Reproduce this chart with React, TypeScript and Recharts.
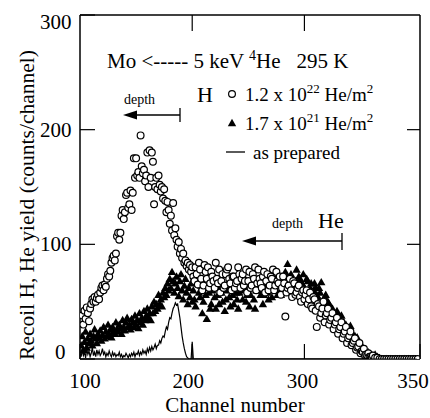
import React from 'react';
import { ScatterChart, Scatter, XAxis, YAxis, Legend, Label } from 'recharts';

const FONT = '"Liberation Serif", "Times New Roman", Times, serif';

// ---- axes ----
const xTickValues = [100, 200, 300, 403];
const xTickLabels = ['100', '200', '300', '350'];
const xTopTicks = [200, 300];
const yTickValues = [0, 100, 200, 300];
const yRightTicks = [100, 200];
const xDomain = [100, 403];
const yDomain = [0, 300];

// plot box (page px) shared by chart margins and the frame overlay
const CHART_W = 430;
const CHART_H = 418;
const M_TOP = 15;
const M_RIGHT = 10;
const Y_AXIS_W = 80;
const X_AXIS_H = 59;
const PLOT = { left: Y_AXIS_W, right: CHART_W - M_RIGHT, top: M_TOP, bottom: CHART_H - X_AXIS_H };

// ---- series: [channel, counts/channel] ----
const highDose: [number, number][] = [
  [102, 38], [103, 30], [104, 42], [105, 35], [106, 45], [107, 40], [108, 33], [109, 44], [110, 48],
  [111, 52], [112, 50], [113, 54], [114, 50], [115, 53], [116, 56], [117, 52], [118, 58], [119, 62],
  [120, 64], [121, 60], [122, 65], [123, 63], [124, 70], [125, 74], [126, 72], [127, 77], [128, 84],
  [129, 88], [130, 90], [131, 86], [132, 92], [133, 107], [134, 110], [135, 104], [136, 110], [137, 125],
  [138, 130], [139, 122], [140, 128], [141, 143], [142, 145], [143, 132], [144, 135], [145, 147], [146, 130],
  [147, 145], [148, 175], [149, 158], [150, 175], [151, 160], [152, 163], [153, 158], [154, 195], [155, 168],
  [156, 162], [157, 165], [158, 155], [159, 160], [160, 180], [161, 150], [162, 182], [163, 158], [164, 180],
  [165, 172], [166, 135], [167, 150], [168, 158], [169, 148], [170, 160], [171, 152], [172, 146], [173, 150],
  [174, 140], [175, 148], [176, 138], [177, 128], [178, 137], [179, 130], [180, 118], [181, 125], [182, 112],
  [183, 136], [184, 108], [185, 114], [186, 104], [187, 98], [188, 102], [189, 92], [190, 96], [191, 88],
  [192, 92], [193, 84], [194, 86], [195, 81], [196, 84], [197, 78], [198, 82], [199, 76], [200, 80],
  [201, 72], [202, 68], [203, 80], [204, 74], [205, 65], [206, 84], [207, 78], [208, 70], [209, 60],
  [210, 64], [211, 82], [212, 76], [213, 70], [214, 80], [215, 62], [216, 66], [217, 76], [218, 72],
  [219, 68], [220, 62], [221, 84], [222, 70], [223, 66], [224, 78], [225, 58], [226, 68], [227, 74],
  [228, 62], [229, 64], [230, 74], [231, 78], [232, 80], [233, 70], [234, 66], [235, 60], [236, 72],
  [237, 72], [238, 62], [239, 66], [240, 68], [241, 80], [242, 74], [243, 62], [244, 70], [245, 74],
  [246, 64], [247, 68], [248, 78], [249, 58], [250, 68], [251, 76], [252, 62], [253, 64], [254, 74],
  [255, 70], [256, 80], [257, 60], [258, 66], [259, 78], [260, 70], [261, 66], [262, 62], [263, 72],
  [264, 76], [265, 58], [266, 68], [267, 74], [268, 60], [269, 64], [270, 72], [271, 70], [272, 78],
  [273, 60], [274, 64], [275, 76], [276, 68], [277, 66], [278, 72], [279, 56], [280, 62], [281, 72],
  [282, 66], [283, 37], [284, 58], [285, 62], [286, 64], [287, 70], [288, 60], [289, 54], [290, 68],
  [291, 66], [292, 56], [293, 58], [294, 62], [295, 64], [296, 54], [297, 50], [298, 58], [299, 60],
  [300, 52], [301, 56], [302, 60], [303, 48], [304, 52], [305, 58], [306, 46], [307, 44], [308, 54],
  [309, 52], [310, 42], [311, 28], [312, 48], [313, 46], [314, 36], [315, 40], [316, 44], [317, 50],
  [318, 32], [319, 38], [320, 40], [321, 44], [322, 30], [323, 34], [324, 36], [325, 40], [326, 26],
  [327, 30], [328, 32], [329, 36], [330, 22], [331, 26], [332, 28], [333, 32], [334, 18], [335, 22],
  [336, 24], [337, 28], [338, 14], [339, 18], [340, 20], [341, 24], [342, 12], [343, 14], [344, 16],
  [345, 18], [346, 8], [347, 10], [348, 11], [349, 14], [350, 5], [351, 7], [352, 6], [353, 9],
  [354, 3], [355, 4], [356, 3], [357, 5], [358, 2], [359, 2], [360, 1], [361, 3], [363, 1], [365, 1],
  [367, 0], [369, 0], [371, 0], [373, 0], [375, 0], [377, 0], [379, 0], [381, 0], [383, 0], [385, 0],
  [387, 0], [389, 0], [391, 0], [393, 0], [395, 0], [397, 0], [399, 0], [401, 0],
];

const lowDose: [number, number][] = [
  [101, 12], [102, 20], [103, 8], [104, 15], [105, 24], [106, 10], [107, 18], [108, 14], [109, 22],
  [110, 16], [111, 12], [112, 20], [113, 26], [114, 18], [115, 14], [116, 22], [117, 19], [118, 25],
  [119, 16], [120, 21], [121, 28], [122, 18], [123, 24], [124, 20], [125, 30], [126, 22], [127, 26],
  [128, 19], [129, 28], [130, 24], [131, 22], [132, 32], [133, 26], [134, 24], [135, 30], [136, 27],
  [137, 22], [138, 34], [139, 28], [140, 25], [141, 32], [142, 36], [143, 28], [144, 30], [145, 26],
  [146, 35], [147, 32], [148, 28], [149, 38], [150, 30], [151, 34], [152, 27], [153, 40], [154, 32],
  [155, 36], [156, 30], [157, 42], [158, 34], [159, 38], [160, 44], [161, 36], [162, 40], [163, 34],
  [164, 46], [165, 40], [166, 50], [167, 42], [168, 48], [169, 44], [170, 56], [171, 48], [172, 52],
  [173, 46], [174, 58], [175, 54], [176, 62], [177, 56], [178, 66], [179, 60], [180, 70], [181, 62],
  [182, 76], [183, 68], [184, 58], [185, 66], [186, 72], [187, 62], [188, 55], [189, 68], [190, 74],
  [191, 60], [192, 52], [193, 64], [194, 70], [195, 58], [196, 48], [197, 62], [198, 54], [199, 66],
  [200, 50], [201, 60], [202, 52], [203, 46], [204, 70], [205, 66], [206, 58], [207, 54], [208, 64],
  [209, 40], [210, 50], [211, 62], [212, 56], [213, 35], [214, 62], [215, 58], [216, 44], [217, 48],
  [218, 60], [219, 68], [220, 54], [221, 44], [222, 64], [223, 56], [224, 48], [225, 62], [226, 58],
  [227, 50], [228, 66], [229, 42], [230, 52], [231, 60], [232, 62], [233, 54], [234, 46], [235, 66],
  [236, 56], [237, 48], [238, 64], [239, 58], [240, 52], [241, 44], [242, 58], [243, 62], [244, 68],
  [245, 52], [246, 60], [247, 70], [248, 50], [249, 56], [250, 62], [251, 46], [252, 56], [253, 64],
  [254, 70], [255, 52], [256, 44], [257, 60], [258, 64], [259, 78], [260, 60], [261, 56], [262, 70],
  [263, 48], [264, 56], [265, 66], [266, 62], [267, 58], [268, 52], [269, 72], [270, 66], [271, 54],
  [272, 60], [273, 64], [274, 70], [275, 60], [276, 56], [277, 70], [278, 64], [279, 56], [280, 68],
  [281, 66], [282, 60], [283, 76], [284, 72], [285, 83], [286, 66], [287, 62], [288, 74], [289, 70],
  [290, 64], [291, 58], [292, 68], [293, 78], [294, 60], [295, 72], [296, 70], [297, 64], [298, 66],
  [299, 74], [300, 62], [301, 60], [302, 70], [303, 68], [304, 58], [305, 62], [306, 66], [307, 58],
  [308, 60], [309, 66], [310, 62], [311, 56], [312, 54], [313, 62], [314, 58], [315, 67], [316, 50],
  [317, 52], [318, 54], [319, 56], [320, 46], [321, 50], [322, 48], [323, 46], [324, 42], [325, 44],
  [326, 40], [327, 40], [328, 36], [329, 42], [330, 38], [331, 36], [332, 32], [333, 38], [334, 30],
  [335, 32], [336, 28], [337, 30], [338, 24], [339, 26], [340, 25], [341, 29], [342, 20], [343, 22],
  [344, 18], [345, 20], [346, 15], [347, 19], [348, 13], [349, 14], [350, 10], [351, 12], [352, 8],
  [353, 9], [354, 6], [355, 7], [356, 5], [357, 6], [358, 3], [359, 4], [360, 2], [361, 3], [363, 4],
  [365, 2], [367, 1], [369, 0], [373, 0], [377, 0], [381, 0], [385, 0], [389, 0], [393, 0], [397, 0],
];

const asPrepared: [number, number][] = [
  [100, 5], [101, 2], [102, 8], [103, 3], [104, 6], [105, 1], [106, 9], [107, 4], [108, 7], [109, 2],
  [110, 5], [111, 10], [112, 3], [113, 6], [114, 2], [115, 8], [116, 4], [117, 7], [118, 3], [119, 5],
  [120, 9], [121, 4], [122, 6], [123, 2], [124, 5], [125, 3], [126, 7], [127, 4], [128, 2], [129, 6],
  [130, 3], [131, 5], [132, 2], [133, 4], [134, 3], [135, 6], [136, 2], [137, 4], [138, 1], [139, 3],
  [140, 2], [141, 5], [142, 3], [143, 1], [144, 4], [145, 2], [146, 5], [147, 3], [148, 6], [149, 2],
  [150, 5], [151, 4], [152, 7], [153, 3], [154, 6], [155, 4], [156, 8], [157, 5], [158, 7], [159, 4],
  [160, 9], [161, 6], [162, 10], [163, 7], [164, 11], [165, 8], [166, 10], [167, 13], [168, 9], [169, 12],
  [170, 12], [171, 16], [172, 14], [173, 18], [174, 20], [175, 19], [176, 24], [177, 28], [178, 26],
  [179, 32], [180, 36], [181, 35], [182, 40], [183, 44], [184, 46], [185, 49], [186, 47], [187, 48],
  [188, 42], [189, 36], [190, 28], [191, 20], [192, 14], [193, 9], [194, 5], [195, 2], [196, 1],
  [197, 0], [198, 0], [199, 0], [200, 15], [201, 0], [202, 0], [400, 0],
];

const toPoints = (rows: [number, number][]) => rows.map(([ch, y]) => ({ ch, y }));
const highDoseData = toPoints(highDose);
const lowDoseData = toPoints(lowDose);
const asPreparedData = toPoints(asPrepared);

const legendItems = [
  { kind: 'circle', base: '1.2 x 10', exp: '22', unit: ' He/m', unitExp: '2' },
  { kind: 'triangle', base: '1.7 x 10', exp: '21', unit: ' He/m', unitExp: '2' },
  { kind: 'line', base: 'as prepared', exp: '', unit: '', unitExp: '' },
];

const CircleShape = (p: any) => (
  <circle cx={p.cx} cy={p.cy} r={3.4} fill="#fff" stroke="#000" strokeWidth={1.2} />
);
const TriangleShape = (p: any) => (
  <path d={`M${p.cx},${p.cy - 4.2} L${p.cx + 4.2},${p.cy + 3.2} L${p.cx - 4.2},${p.cy + 3.2} Z`} fill="#000" />
);
const NoShape = () => <g />;

const xDx = [5, -4, -2, -7];
const XTick = (props: any) => {
  const { x, y, payload } = props;
  const i = xTickValues.indexOf(payload.value);
  return (
    <text x={x + (xDx[i] ?? 0)} y={y + 14} textAnchor="middle" fontFamily={FONT} fontSize={21} fill="#000">
      {xTickLabels[i] ?? payload.value}
    </text>
  );
};

const YTick = (props: any) => {
  const { x, y, payload } = props;
  const v = payload.value;
  const dy = v === 300 ? 13.5 : v === 0 ? 0 : 7;
  const dx = v === 0 ? -6 : 0;
  return (
    <text x={x + dx} y={y + dy} textAnchor="end" fontFamily={FONT} fontSize={21} fill="#000">
      {v}
    </text>
  );
};

const renderLegend = () => (
  <svg width={170} height={92} style={{ display: 'block', overflow: 'visible' }}>
    {legendItems.map((it, i) => {
      const cy = 16 + i * 29;
      const ty = cy + 7;
      let marker: React.ReactNode = null;
      if (it.kind === 'circle') marker = <circle cx={10} cy={cy} r={3.4} fill="#fff" stroke="#000" strokeWidth={1.2} />;
      if (it.kind === 'triangle')
        marker = <path d={`M10,${cy - 4.2} L14.2,${cy + 3.2} L5.8,${cy + 3.2} Z`} fill="#000" />;
      if (it.kind === 'line') marker = <line x1={4} x2={23} y1={cy} y2={cy} stroke="#000" strokeWidth={1.3} />;
      return (
        <g key={i}>
          {marker}
          <text x={it.kind === 'line' ? 31 : 23} y={ty} fontFamily={FONT} fontSize={19} fill="#000">
            {it.base}
            {it.exp ? <tspan fontSize={13} dy={-8}>{it.exp}</tspan> : null}
            {it.unit ? <tspan dy={8}>{it.unit}</tspan> : null}
            {it.unitExp ? <tspan fontSize={13} dy={-8}>{it.unitExp}</tspan> : null}
          </text>
        </g>
      );
    })}
  </svg>
);

// frame helpers: map tick values onto the same plot box the chart uses
const fx = (v: number) => PLOT.left + ((v - xDomain[0]) / (xDomain[1] - xDomain[0])) * (PLOT.right - PLOT.left);
const fy = (v: number) => PLOT.bottom - ((v - yDomain[0]) / (yDomain[1] - yDomain[0])) * (PLOT.bottom - PLOT.top);

const Annotations = () => (
  <svg width={CHART_W} height={CHART_H} style={{ position: 'absolute', left: 0, top: 0, pointerEvents: 'none' }}>
    {/* top and right frame with inward ticks */}
    <line x1={PLOT.left} x2={PLOT.right} y1={PLOT.top} y2={PLOT.top} stroke="#000" strokeWidth={1.5} />
    <line x1={PLOT.right} x2={PLOT.right} y1={PLOT.top} y2={PLOT.bottom} stroke="#000" strokeWidth={1.5} />
    {xTopTicks.map((t) => (
      <line key={`tt${t}`} x1={fx(t)} x2={fx(t)} y1={PLOT.top} y2={PLOT.top + 16} stroke="#000" strokeWidth={1.2} />
    ))}
    {yRightTicks.map((t) => (
      <line key={`rt${t}`} x1={PLOT.right} x2={PLOT.right - 13} y1={fy(t)} y2={fy(t)} stroke="#000" strokeWidth={1.2} />
    ))}
    <text x={107} y={68} fontFamily={FONT} fontSize={21} fill="#000">
      <tspan>Mo &lt;----- 5 keV </tspan>
      <tspan fontSize={14} dy={-8}>4</tspan>
      <tspan dy={8}>He</tspan>
      <tspan dx={16}>295 K</tspan>
    </text>
    {/* H depth arrow */}
    <text x={124} y={104} fontFamily={FONT} fontSize={14} fill="#000">depth</text>
    <text x={197} y={102} fontFamily={FONT} fontSize={22} fill="#000">H</text>
    <line x1={133} x2={180} y1={115} y2={115} stroke="#000" strokeWidth={1.3} />
    <polygon points="123,115 137,110.5 137,119.5" fill="#000" />
    <line x1={180} x2={180} y1={108} y2={122} stroke="#000" strokeWidth={1.3} />
    {/* He depth arrow */}
    <text x={272} y={228} fontFamily={FONT} fontSize={14} fill="#000">depth</text>
    <text x={318} y={228} fontFamily={FONT} fontSize={22} fill="#000">He</text>
    <line x1={252} x2={342} y1={241} y2={241} stroke="#000" strokeWidth={1.3} />
    <polygon points="242,241 256,236.5 256,245.5" fill="#000" />
    <line x1={342} x2={342} y1={233} y2={250} stroke="#000" strokeWidth={1.3} />
  </svg>
);

export default function App() {
  return (
    <div style={{ position: 'absolute', left: 0, top: 0, width: CHART_W, height: CHART_H, background: '#fff' }}>
      <ScatterChart width={CHART_W} height={CHART_H} margin={{ top: M_TOP, right: M_RIGHT, bottom: 0, left: 0 }}>
        <XAxis
          type="number"
          dataKey="ch"
          orientation="bottom"
          domain={xDomain}
          ticks={xTickValues}
          allowDataOverflow
          interval={0}
          height={X_AXIS_H}
          tickSize={-15}
          tickMargin={30}
          tick={<XTick />}
          axisLine={{ stroke: '#000', strokeWidth: 1.5 }}
          tickLine={{ stroke: '#000', strokeWidth: 1.2 }}
        >
          <Label
            content={(p: any) => (
              <text x={p.viewBox.x + 155} y={p.viewBox.y + 53} textAnchor="middle" fontFamily={FONT} fontSize={21} fill="#000">
                Channel number
              </text>
            )}
          />
        </XAxis>
        <YAxis
          type="number"
          dataKey="y"
          orientation="left"
          domain={yDomain}
          ticks={yTickValues}
          allowDataOverflow
          interval={0}
          width={Y_AXIS_W}
          tickSize={-15}
          tickMargin={23.5}
          tick={<YTick />}
          axisLine={{ stroke: '#000', strokeWidth: 1.5 }}
          tickLine={{ stroke: '#000', strokeWidth: 1.2 }}
        >
          <Label
            content={() => (
              <text
                x={34}
                y={205}
                transform="rotate(-90, 34, 205)"
                textAnchor="middle"
                fontFamily={FONT}
                fontSize={21.5}
                fill="#000"
              >
                Recoil H, He yield (counts/channel)
              </text>
            )}
          />
        </YAxis>
        <Scatter name="1.7 x 10^21 He/m^2" data={lowDoseData} shape={TriangleShape} isAnimationActive={false} />
        <Scatter name="1.2 x 10^22 He/m^2" data={highDoseData} shape={CircleShape} isAnimationActive={false} />
        <Scatter
          name="as prepared"
          data={asPreparedData}
          shape={NoShape}
          line={{ stroke: '#000', strokeWidth: 1.2 }}
          lineType="joint"
          isAnimationActive={false}
        />
        <Legend
          layout="vertical"
          align="center"
          verticalAlign="middle"
          wrapperStyle={{ left: 222, top: 78, width: 170, height: 92 }}
          content={renderLegend}
        />
      </ScatterChart>
      <Annotations />
    </div>
  );
}
